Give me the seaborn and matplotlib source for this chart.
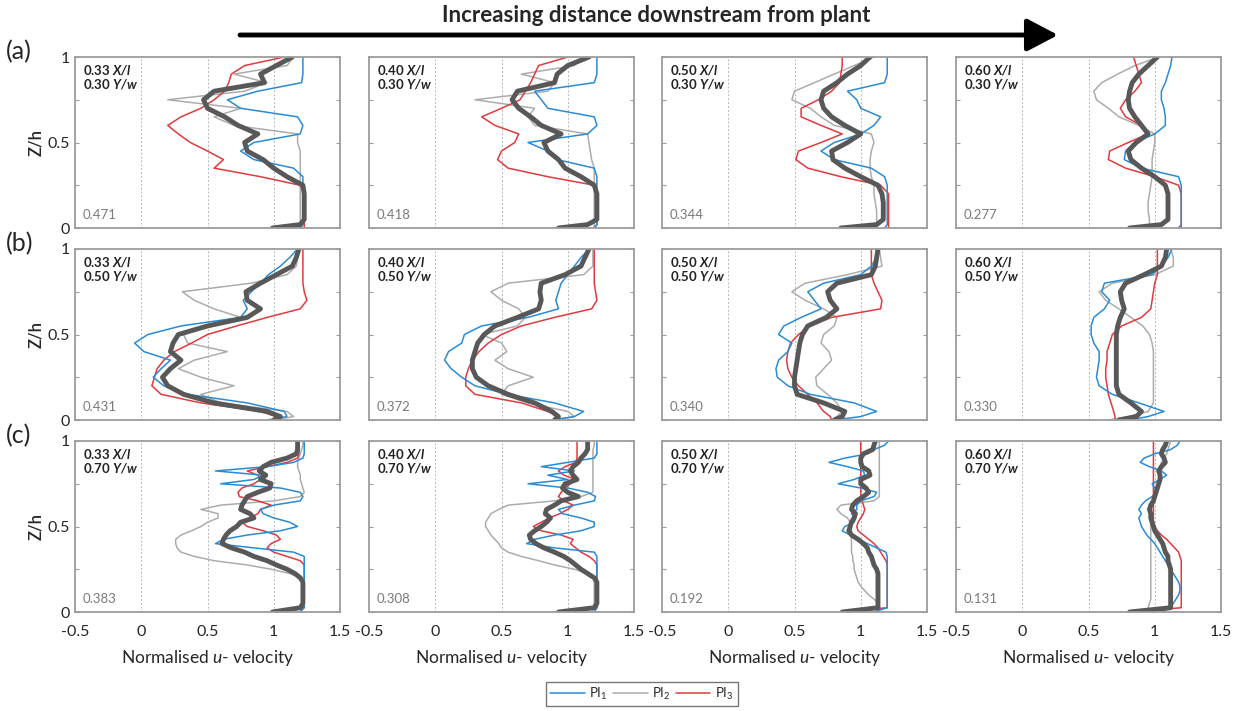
import matplotlib
matplotlib.use('Agg')
import matplotlib.pyplot as plt
from matplotlib.lines import Line2D
from matplotlib.patches import FancyArrowPatch
import pandas as pd
import seaborn as sns

sns.set_theme(style="white")
plt.rcParams['font.family'] = ['Lato', 'DejaVu Sans']
plt.rcParams['mathtext.fontset'] = 'custom'
plt.rcParams['mathtext.rm'] = 'Lato'
plt.rcParams['mathtext.it'] = 'Lato:italic'
plt.rcParams['mathtext.bfit'] = 'Lato:italic:bold'

# heights (Z/h) at which profiles were read, top -> bottom
Z_COARSE = [1.0, 0.95, 0.9, 0.85, 0.8, 0.75, 0.7, 0.65, 0.6, 0.55, 0.5,
            0.45, 0.4, 0.35, 0.3, 0.25, 0.2, 0.15, 0.1, 0.05, 0.02, 0.0]
Z_FINE = [1.0, 0.975, 0.95, 0.925, 0.9, 0.875, 0.85, 0.825, 0.8, 0.775, 0.75,
          0.725, 0.7, 0.675, 0.65, 0.625, 0.6, 0.575, 0.55, 0.525, 0.5,
          0.475, 0.45, 0.425, 0.4, 0.375, 0.35, 0.325, 0.3, 0.275, 0.25,
          0.225, 0.2, 0.175, 0.15, 0.125, 0.1, 0.075, 0.05, 0.025, 0.0]

# row (a): Y/w = 0.30
A1_PI1 = [1.22, 1.22, 1.22, 1.21, 0.88, 0.65, 0.75, 1.18, 1.22, 1.20, 0.85, 0.75, 0.85, 1.15, 1.22, 1.22, 1.22, 1.22, 1.22, 1.22, 1.22, 1.20]
A1_PI2 = [1.15, 1.10, 0.70, 0.95, 0.78, 0.20, 0.75, 0.55, 0.70, 1.18, 1.18, 1.20, 1.20, 1.20, 1.20, 1.20, 1.20, 1.20, 1.20, 1.20, 1.20, 1.20]
A1_PI3 = [1.08, 0.78, 0.68, 0.66, 0.63, 0.55, 0.45, 0.30, 0.20, 0.28, 0.37, 0.50, 0.62, 0.55, 0.90, 1.20, 1.23, 1.23, 1.23, 1.23, 1.23, 1.23]
A1_MEAN = [1.14, 1.02, 0.90, 0.93, 0.55, 0.47, 0.50, 0.63, 0.73, 0.88, 0.78, 0.80, 0.92, 1.00, 1.10, 1.22, 1.23, 1.23, 1.23, 1.23, 1.20, 0.99]

A2_PI1 = [1.22, 1.22, 1.22, 1.20, 0.75, 0.80, 0.85, 1.20, 1.22, 1.15, 0.70, 0.85, 0.92, 1.20, 1.22, 1.22, 1.22, 1.22, 1.22, 1.22, 1.22, 1.20]
A2_PI2 = [1.12, 1.05, 0.65, 0.90, 0.85, 0.30, 0.75, 0.70, 0.75, 1.15, 1.16, 1.17, 1.18, 1.20, 1.20, 1.20, 1.20, 1.20, 1.20, 1.20, 1.20, 1.20]
A2_PI3 = [1.00, 0.78, 0.75, 0.72, 0.68, 0.64, 0.50, 0.35, 0.45, 0.63, 0.60, 0.50, 0.47, 0.55, 0.85, 1.20, 1.22, 1.22, 1.22, 1.22, 1.22, 1.20]
A2_MEAN = [1.16, 1.00, 0.92, 0.90, 0.62, 0.58, 0.63, 0.72, 0.80, 0.95, 0.82, 0.85, 0.93, 0.98, 1.10, 1.20, 1.22, 1.22, 1.22, 1.22, 1.15, 0.93]

A3_PI1 = [1.20, 1.20, 1.20, 1.18, 0.90, 0.97, 1.00, 1.15, 1.10, 1.00, 0.80, 0.70, 0.80, 1.08, 1.18, 1.20, 1.20, 1.20, 1.20, 1.20, 1.20, 1.18]
A3_PI2 = [1.10, 0.95, 0.80, 0.65, 0.50, 0.48, 0.62, 0.70, 0.80, 1.08, 1.10, 1.08, 1.07, 1.07, 1.08, 1.10, 1.10, 1.11, 1.12, 1.12, 1.12, 1.12]
A3_PI3 = [0.86, 0.86, 0.85, 0.84, 0.78, 0.68, 0.55, 0.55, 0.70, 0.86, 0.70, 0.53, 0.51, 0.60, 0.85, 1.15, 1.21, 1.21, 1.21, 1.21, 1.21, 1.21]
A3_MEAN = [1.07, 1.00, 0.90, 0.82, 0.72, 0.70, 0.72, 0.78, 0.88, 1.00, 0.90, 0.78, 0.79, 0.88, 1.00, 1.13, 1.16, 1.17, 1.17, 1.17, 1.12, 0.85]

A4_PI1 = [1.13, 1.12, 1.10, 1.08, 1.05, 1.05, 1.07, 1.08, 1.08, 1.00, 0.85, 0.78, 0.77, 0.90, 1.18, 1.20, 1.20, 1.20, 1.20, 1.20, 1.20, 1.20]
A4_PI2 = [1.03, 0.85, 0.72, 0.60, 0.54, 0.56, 0.65, 0.73, 0.88, 1.00, 1.00, 0.99, 0.98, 0.98, 0.98, 0.97, 0.96, 0.95, 0.95, 0.96, 0.96, 0.93]
A4_PI3 = [0.84, 0.86, 0.88, 0.90, 0.85, 0.78, 0.74, 0.78, 0.90, 0.95, 0.80, 0.66, 0.65, 0.78, 1.00, 1.18, 1.20, 1.20, 1.20, 1.20, 1.20, 1.18]
A4_MEAN = [1.02, 0.95, 0.88, 0.83, 0.81, 0.80, 0.81, 0.85, 0.90, 0.95, 0.86, 0.80, 0.82, 0.90, 1.00, 1.08, 1.10, 1.10, 1.10, 1.10, 1.05, 0.81]

# row (b): Y/w = 0.50
B1_PI1 = [1.18, 1.12, 1.05, 0.96, 0.90, 0.83, 0.77, 0.80, 0.75, 0.30, 0.05, -0.05, 0.02, 0.22, 0.15, 0.09, 0.17, 0.35, 0.80, 1.08, 1.10, 0.95]
B1_PI2 = [1.19, 1.18, 1.17, 1.10, 0.83, 0.31, 0.40, 0.55, 0.75, 0.50, 0.32, 0.35, 0.65, 0.40, 0.28, 0.45, 0.70, 0.45, 0.60, 1.10, 1.15, 1.00]
B1_PI3 = [1.22, 1.22, 1.22, 1.22, 1.22, 1.23, 1.25, 1.20, 0.95, 0.72, 0.50, 0.38, 0.25, 0.17, 0.12, 0.10, 0.08, 0.15, 0.45, 0.90, 1.02, 1.05]
B1_MEAN = [1.19, 1.17, 1.14, 1.02, 0.90, 0.79, 0.80, 0.90, 0.80, 0.50, 0.28, 0.24, 0.22, 0.30, 0.22, 0.16, 0.20, 0.32, 0.55, 0.95, 1.05, 1.00]

B2_PI1 = [1.16, 1.10, 1.05, 1.00, 0.95, 0.93, 0.91, 0.93, 0.70, 0.35, 0.22, 0.20, 0.10, 0.07, 0.12, 0.20, 0.30, 0.55, 0.90, 1.12, 1.05, 0.88]
B2_PI2 = [1.19, 1.19, 1.19, 1.12, 0.55, 0.42, 0.50, 0.63, 0.68, 0.62, 0.35, 0.50, 0.54, 0.45, 0.55, 0.74, 0.55, 0.50, 0.70, 1.00, 1.05, 0.90]
B2_PI3 = [1.20, 1.20, 1.20, 1.20, 1.20, 1.21, 1.22, 1.18, 0.90, 0.65, 0.50, 0.40, 0.33, 0.28, 0.25, 0.23, 0.23, 0.30, 0.65, 0.85, 0.93, 0.90]
B2_MEAN = [1.16, 1.13, 1.10, 0.98, 0.80, 0.79, 0.80, 0.78, 0.62, 0.45, 0.37, 0.32, 0.30, 0.28, 0.28, 0.31, 0.40, 0.55, 0.75, 0.88, 0.93, 0.90]

B3_PI1 = [1.13, 1.12, 1.08, 1.00, 0.72, 0.60, 0.65, 0.70, 0.55, 0.42, 0.38, 0.48, 0.45, 0.38, 0.36, 0.37, 0.45, 0.62, 0.95, 1.12, 1.00, 0.80]
B3_PI2 = [1.14, 1.15, 1.16, 0.90, 0.58, 0.48, 0.58, 0.72, 0.82, 0.80, 0.72, 0.70, 0.76, 0.78, 0.72, 0.66, 0.67, 0.75, 0.82, 0.86, 0.82, 0.78]
B3_PI3 = [1.08, 1.08, 1.08, 1.08, 1.10, 1.13, 1.16, 1.15, 0.78, 0.62, 0.53, 0.47, 0.45, 0.44, 0.45, 0.48, 0.53, 0.60, 0.67, 0.72, 0.77, 0.78]
B3_MEAN = [1.13, 1.12, 1.11, 1.08, 0.82, 0.75, 0.77, 0.82, 0.74, 0.60, 0.56, 0.54, 0.53, 0.52, 0.51, 0.50, 0.50, 0.52, 0.72, 0.88, 0.86, 0.80]

B4_PI1 = [1.13, 1.10, 1.05, 0.98, 0.62, 0.60, 0.66, 0.62, 0.54, 0.52, 0.52, 0.54, 0.58, 0.58, 0.57, 0.56, 0.58, 0.68, 0.88, 1.07, 0.95, 0.80]
B4_PI2 = [1.12, 1.14, 1.14, 1.00, 0.68, 0.58, 0.63, 0.73, 0.82, 0.91, 0.96, 0.98, 0.99, 0.99, 0.99, 0.99, 0.99, 0.99, 0.99, 0.95, 0.80, 0.65]
B4_PI3 = [1.02, 1.02, 1.02, 1.02, 1.00, 0.99, 0.98, 0.97, 0.90, 0.75, 0.68, 0.66, 0.64, 0.64, 0.63, 0.63, 0.64, 0.65, 0.67, 0.69, 0.70, 0.70]
B4_MEAN = [1.09, 1.08, 1.05, 0.92, 0.78, 0.74, 0.75, 0.77, 0.74, 0.72, 0.71, 0.71, 0.71, 0.71, 0.71, 0.71, 0.71, 0.73, 0.82, 0.90, 0.86, 0.73]

# row (c): Y/w = 0.70 (read on the finer height grid)
C1_PI1 = [1.23, 1.23, 1.23, 1.23, 1.22, 1.15, 0.95, 0.56, 0.92, 0.85, 0.60, 1.05, 1.20, 1.22, 1.20, 1.00, 0.90, 0.92, 1.00, 1.12, 1.18,
          1.05, 0.80, 0.62, 0.56, 0.85, 1.15, 1.23, 1.23, 1.23, 1.23, 1.23, 1.23, 1.23, 1.23, 1.23, 1.23, 1.23, 1.23, 1.23, 1.20]
C1_PI2 = [1.22, 1.22, 1.21, 1.20, 1.19, 1.18, 1.18, 1.19, 1.20, 1.20, 1.21, 1.22, 1.23, 1.20, 1.00, 0.60, 0.45, 0.58, 0.58, 0.50, 0.45,
          0.38, 0.30, 0.26, 0.26, 0.27, 0.30, 0.40, 0.55, 0.80, 0.98, 1.12, 1.20, 1.22, 1.22, 1.22, 1.22, 1.22, 1.22, 1.22, 1.20]
C1_PI3 = [1.19, 1.19, 1.19, 1.19, 1.18, 1.10, 0.95, 0.80, 0.88, 0.90, 0.85, 0.76, 0.73, 0.74, 0.88, 0.98, 0.90, 0.88, 0.82, 0.76, 0.80,
          0.92, 1.02, 1.05, 0.98, 0.95, 1.00, 1.10, 1.20, 1.23, 1.23, 1.23, 1.23, 1.23, 1.23, 1.23, 1.23, 1.23, 1.23, 1.23, 0.99]
C1_MEAN = [1.18, 1.18, 1.18, 1.17, 1.10, 0.98, 0.92, 0.89, 0.94, 0.90, 0.98, 0.97, 0.88, 0.80, 0.78, 0.76, 0.75, 0.82, 0.85, 0.75, 0.72,
           0.67, 0.64, 0.62, 0.61, 0.68, 0.78, 0.85, 0.95, 1.02, 1.10, 1.16, 1.20, 1.22, 1.22, 1.22, 1.22, 1.22, 1.22, 1.20, 0.99]

C2_PI1 = [1.22, 1.22, 1.22, 1.22, 1.20, 1.00, 0.80, 1.05, 0.85, 1.00, 0.70, 1.00, 1.15, 1.21, 1.20, 1.05, 0.93, 0.96, 1.10, 1.20, 1.20,
          1.10, 0.90, 0.75, 0.69, 0.90, 1.20, 1.22, 1.22, 1.22, 1.22, 1.22, 1.22, 1.22, 1.22, 1.22, 1.22, 1.22, 1.22, 1.22, 1.20]
C2_PI2 = [1.20, 1.20, 1.19, 1.19, 1.19, 1.19, 1.19, 1.19, 1.19, 1.19, 1.19, 1.19, 1.19, 1.10, 0.90, 0.55, 0.48, 0.42, 0.40, 0.38, 0.38,
          0.40, 0.42, 0.45, 0.48, 0.50, 0.55, 0.65, 0.78, 0.90, 1.05, 1.15, 1.20, 1.20, 1.20, 1.20, 1.20, 1.20, 1.20, 1.20, 1.18]
C2_PI3 = [1.07, 1.07, 1.07, 1.07, 1.07, 1.06, 0.98, 0.93, 0.97, 1.06, 1.02, 0.98, 0.95, 0.93, 0.97, 1.04, 1.00, 0.94, 0.86, 0.80, 0.74,
          0.80, 0.95, 1.04, 1.02, 1.06, 1.10, 1.16, 1.20, 1.22, 1.22, 1.22, 1.22, 1.22, 1.22, 1.22, 1.22, 1.22, 1.22, 1.22, 0.92]
C2_MEAN = [1.15, 1.15, 1.15, 1.13, 1.10, 1.08, 1.04, 1.02, 1.04, 1.07, 0.98, 0.96, 1.00, 1.08, 0.95, 0.90, 0.84, 0.83, 0.87, 0.84, 0.80,
           0.75, 0.71, 0.72, 0.76, 0.82, 0.90, 0.97, 1.02, 1.06, 1.10, 1.15, 1.20, 1.22, 1.22, 1.22, 1.22, 1.22, 1.22, 1.20, 0.93]

C3_PI1 = [1.21, 1.18, 1.10, 1.05, 0.88, 0.76, 0.90, 1.02, 1.03, 0.95, 0.83, 1.00, 1.12, 1.10, 1.00, 0.97, 0.97, 0.93, 0.96, 0.95, 0.88,
          0.86, 0.92, 0.98, 1.05, 1.12, 1.19, 1.20, 1.20, 1.20, 1.20, 1.20, 1.20, 1.20, 1.20, 1.20, 1.20, 1.20, 1.20, 1.20, 1.10]
C3_PI2 = [1.14, 1.14, 1.14, 1.14, 1.14, 1.14, 1.14, 1.14, 1.14, 1.14, 1.14, 1.14, 1.14, 1.14, 1.10, 0.85, 0.82, 0.85, 0.90, 0.92, 0.93,
          0.93, 0.93, 0.93, 0.93, 0.93, 0.93, 0.94, 0.94, 0.95, 0.95, 0.96, 0.97, 0.98, 1.00, 1.03, 1.06, 1.10, 1.13, 1.14, 1.12]
C3_PI3 = [1.00, 1.00, 1.00, 1.00, 1.00, 1.00, 1.00, 1.00, 1.00, 1.00, 1.00, 1.00, 1.00, 1.00, 1.01, 1.02, 1.03, 1.02, 1.00, 0.98, 0.97,
          0.98, 1.02, 1.06, 1.10, 1.13, 1.15, 1.17, 1.19, 1.20, 1.20, 1.20, 1.20, 1.20, 1.20, 1.20, 1.20, 1.20, 1.20, 1.20, 0.85]
C3_MEAN = [1.11, 1.10, 1.09, 1.02, 1.00, 1.00, 1.01, 1.06, 1.07, 1.00, 1.00, 1.04, 1.06, 1.02, 0.97, 0.94, 0.93, 0.96, 0.95, 0.93, 0.92,
           0.91, 0.93, 0.98, 1.02, 1.05, 1.06, 1.08, 1.09, 1.10, 1.12, 1.13, 1.13, 1.13, 1.13, 1.13, 1.13, 1.13, 1.13, 1.13, 0.86]

C4_PI1 = [1.19, 1.17, 1.12, 1.00, 0.92, 0.89, 0.96, 1.05, 1.09, 1.04, 0.98, 1.00, 1.02, 0.98, 0.93, 0.90, 0.88, 0.90, 0.88, 0.89, 0.90,
          0.92, 0.94, 0.97, 1.00, 1.02, 1.04, 1.06, 1.08, 1.10, 1.12, 1.14, 1.16, 1.18, 1.19, 1.19, 1.18, 1.16, 1.14, 1.12, 1.05]
C4_PI2 = [1.12, 1.11, 1.10, 1.09, 1.07, 1.05, 1.04, 1.04, 1.03, 1.03, 1.02, 1.02, 1.01, 1.00, 0.99, 0.98, 0.97, 0.97, 0.97, 0.97, 0.97,
          0.97, 0.97, 0.97, 0.97, 0.97, 0.97, 0.97, 0.97, 0.97, 0.97, 0.97, 0.97, 0.97, 0.97, 0.97, 0.97, 0.97, 0.96, 0.95, 0.94]
C4_PI3 = [0.99, 0.99, 0.99, 0.99, 0.99, 0.99, 0.99, 0.99, 0.99, 0.99, 0.99, 0.99, 0.99, 0.99, 0.99, 0.99, 0.99, 0.99, 0.99, 0.99, 1.00,
          1.02, 1.05, 1.09, 1.12, 1.15, 1.18, 1.19, 1.20, 1.20, 1.20, 1.20, 1.20, 1.20, 1.20, 1.20, 1.20, 1.20, 1.20, 1.20, 0.82]
C4_MEAN = [1.09, 1.08, 1.06, 1.05, 1.07, 1.08, 1.05, 1.03, 1.04, 1.04, 1.03, 1.02, 1.01, 1.00, 0.99, 0.97, 0.96, 0.97, 0.97, 0.98, 0.99,
           1.00, 1.02, 1.04, 1.06, 1.07, 1.08, 1.10, 1.10, 1.11, 1.12, 1.12, 1.12, 1.12, 1.12, 1.12, 1.12, 1.12, 1.12, 1.12, 0.81]

X_POS = ['0.33', '0.40', '0.50', '0.60']
Y_POS = ['0.30', '0.50', '0.70']
ROW_TAGS = ['(a)', '(b)', '(c)']
CORNER_VALUES = [['0.471', '0.418', '0.344', '0.277'],
                 ['0.431', '0.372', '0.340', '0.330'],
                 ['0.383', '0.308', '0.192', '0.131']]
SERIES = ['PI1', 'PI2', 'PI3']
SERIES_LABELS = ['PI$_1$', 'PI$_2$', 'PI$_3$']
X_TICKS = [-0.5, 0, 0.5, 1, 1.5]
X_TICK_LABELS = ['-0.5', '0', '0.5', '1', '1.5']

PROFILES = [
    [(Z_COARSE, A1_PI1, A1_PI2, A1_PI3, A1_MEAN), (Z_COARSE, A2_PI1, A2_PI2, A2_PI3, A2_MEAN),
     (Z_COARSE, A3_PI1, A3_PI2, A3_PI3, A3_MEAN), (Z_COARSE, A4_PI1, A4_PI2, A4_PI3, A4_MEAN)],
    [(Z_COARSE, B1_PI1, B1_PI2, B1_PI3, B1_MEAN), (Z_COARSE, B2_PI1, B2_PI2, B2_PI3, B2_MEAN),
     (Z_COARSE, B3_PI1, B3_PI2, B3_PI3, B3_MEAN), (Z_COARSE, B4_PI1, B4_PI2, B4_PI3, B4_MEAN)],
    [(Z_FINE, C1_PI1, C1_PI2, C1_PI3, C1_MEAN), (Z_FINE, C2_PI1, C2_PI2, C2_PI3, C2_MEAN),
     (Z_FINE, C3_PI1, C3_PI2, C3_PI3, C3_MEAN), (Z_FINE, C4_PI1, C4_PI2, C4_PI3, C4_MEAN)],
]

PALETTE = {'PI1': '#2a8bd5', 'PI2': '#acacac', 'PI3': '#e03a3e'}
MEAN_COLOR = '#585858'
SPINE_COLOR = '#9c9c9c'

FW, FH = 1239, 711
fig = plt.figure(figsize=(FW / 100, FH / 100), dpi=100)

col_left = [75, 369, 662, 956]
row_top = [57, 249, 441]
ax_w, ax_h = 265, 171

for r in range(3):
    for c in range(4):
        ax = fig.add_axes([col_left[c] / FW, 1 - (row_top[r] + ax_h) / FH, ax_w / FW, ax_h / FH])
        z, p1, p2, p3, pm = PROFILES[r][c]
        df = pd.concat([pd.DataFrame({'z': z, 'u': vals, 'profile': name})
                        for name, vals in zip(SERIES, [p1, p2, p3])], ignore_index=True)

        for v in (0, 0.5, 1):
            ax.axvline(v, color='#b5b5b5', ls=(0, (2, 2)), lw=0.7, zorder=0)

        sns.lineplot(data=df, x='u', y='z', hue='profile', hue_order=['PI2', 'PI3', 'PI1'],
                     palette=PALETTE, orient='y', sort=False, estimator=None,
                     lw=1.1, legend=False, ax=ax)
        sns.lineplot(x=pm, y=z, orient='y', sort=False, estimator=None, color=MEAN_COLOR,
                     lw=3.5, solid_capstyle='round', solid_joinstyle='round', ax=ax)

        ax.set_xlim(-0.5, 1.5)
        ax.set_ylim(0, 1)
        for sp in ax.spines.values():
            sp.set_color(SPINE_COLOR)
            sp.set_linewidth(1.3)
        ax.set_xticks(X_TICKS)
        ax.set_yticks([0, 0.5, 1])
        ax.set_yticks([0.25, 0.75], minor=True)
        ax.tick_params(axis='y', which='both', direction='in', left=True, right=True,
                       length=3, width=0.8, color=SPINE_COLOR, labelsize=11.5, pad=4)
        ax.tick_params(axis='x', length=0, labelsize=11.5, pad=9)
        ax.set_xlabel('')
        ax.set_ylabel('')

        if c == 0:
            ax.set_yticklabels(['0', '0.5', '1'])
            ax.set_ylabel('Z/h', fontsize=12, fontweight='semibold', labelpad=2)
        else:
            ax.set_yticklabels([])
        if r == 2:
            ax.set_xticklabels(X_TICK_LABELS)
            ax.set_xlabel('Normalised $u$- velocity', fontsize=12.5, labelpad=7)
        else:
            ax.set_xticklabels([])

        ax.text(0.03, 0.965, f'{X_POS[c]} ' + r'$\mathbfit{X/l}$' + f'\n{Y_POS[r]} ' + r'$\mathbfit{Y/w}$',
                transform=ax.transAxes, ha='left', va='top', fontsize=9.5,
                fontweight='bold', color='#222222', linespacing=1.0)
        ax.text(0.03, 0.04, CORNER_VALUES[r][c], transform=ax.transAxes, ha='left',
                va='bottom', fontsize=9.5, color='#7a7a7a')

    fig.text(6 / FW, 1 - (row_top[r] - 5) / FH, ROW_TAGS[r], fontsize=18, ha='left', va='center')

# header arrow
fig.text(656 / FW, 1 - 16 / FH, 'Increasing distance downstream from plant',
         ha='center', va='center', fontsize=16, fontweight='bold')
fig.add_artist(FancyArrowPatch((240 / FW, 1 - 35 / FH), (1058 / FW, 1 - 35 / FH),
                               transform=fig.transFigure,
                               arrowstyle='-|>,head_length=0.95,head_width=0.5',
                               mutation_scale=20, lw=3.5, color='black',
                               shrinkA=0, shrinkB=0))

handles = [Line2D([], [], color=PALETTE[s], lw=1.1) for s in SERIES]
fig.legend(handles, SERIES_LABELS, loc='center', bbox_to_anchor=(642 / FW, 1 - 694 / FH),
           ncol=3, frameon=True, fancybox=False, edgecolor='#555555', fontsize=9.5,
           handlelength=2.6, handletextpad=0.35, columnspacing=0.4, borderpad=0.3)

fig.savefig('out.png', dpi=100)
plt.close(fig)
